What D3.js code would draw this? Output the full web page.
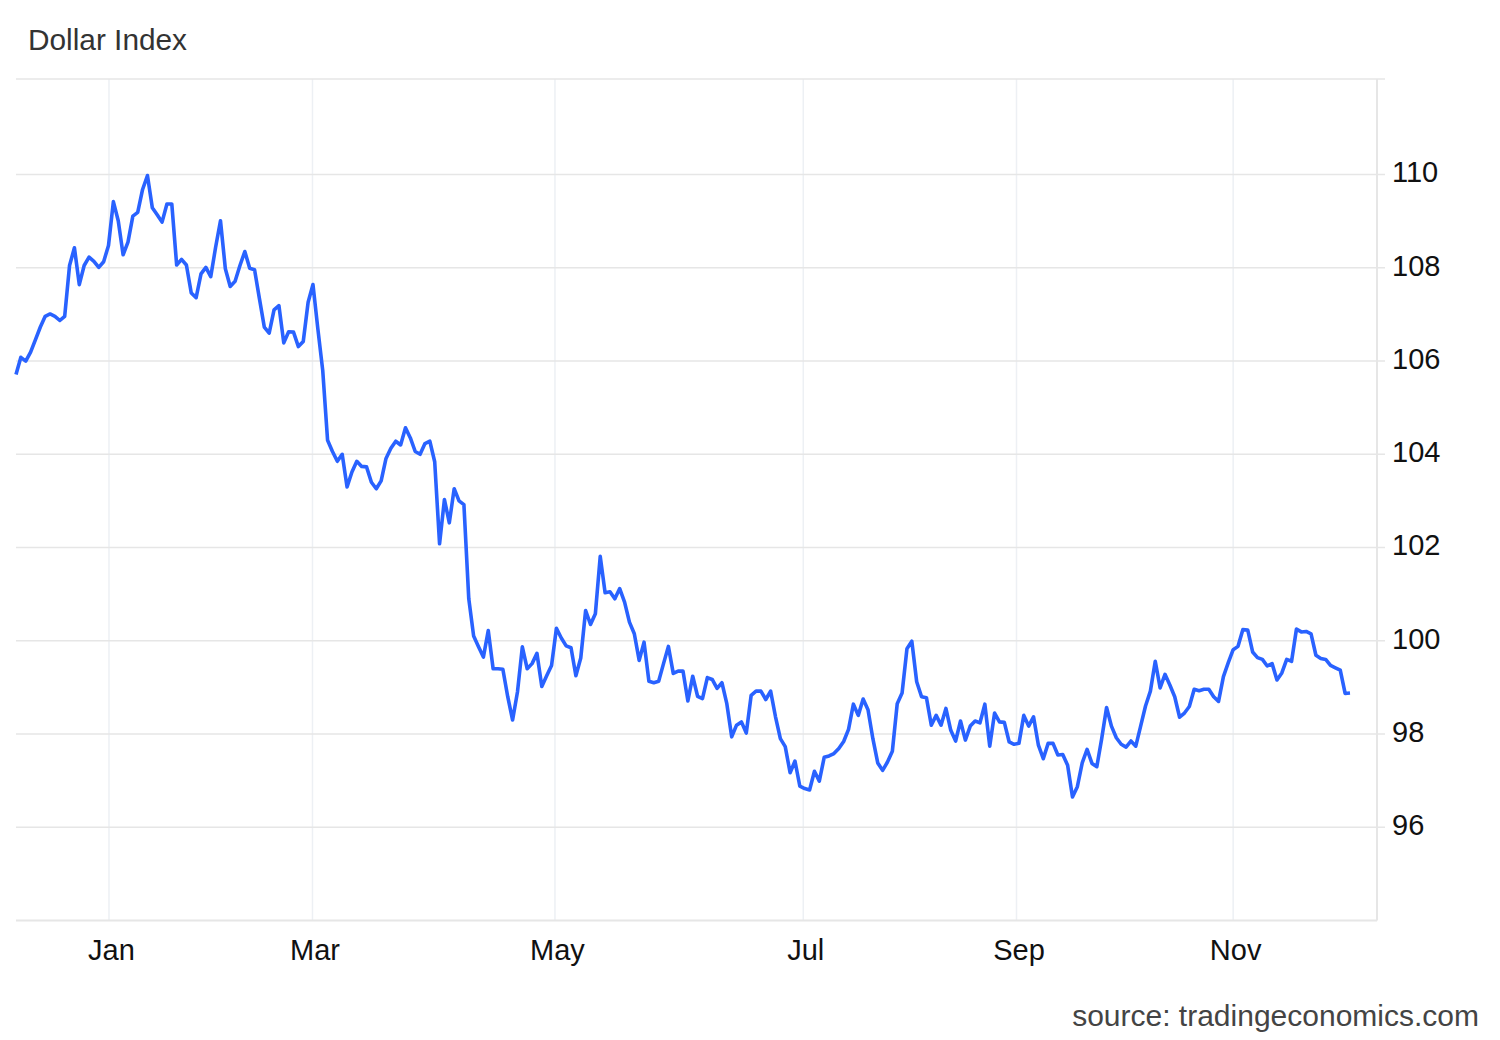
<!DOCTYPE html>
<html>
<head>
<meta charset="utf-8">
<script src="https://cdn.jsdelivr.net/npm/d3@7"></script>
<style>
  html, body { margin: 0; padding: 0; background: #fff; }
  #chart { width: 1500px; height: 1040px; }
  text { font-family: Arial, "Liberation Sans", sans-serif; }
</style>
</head>
<body>
<div id="chart"></div>
<script>
// daily closes, one per trading day
const dxyValues = [
  105.71, 106.08, 106.00, 106.19, 106.46, 106.73, 106.96, 107.01, 106.96, 106.87, 106.96,
  108.05, 108.43, 107.64, 108.05, 108.23, 108.14, 108.01, 108.13, 108.48, 109.42,
  109.01, 108.28, 108.55, 109.11, 109.19, 109.68, 109.98, 109.29, 109.14, 108.98,
  109.37, 109.37, 108.06, 108.18, 108.06, 107.46, 107.36, 107.87, 108.01, 107.81,
  108.44, 109.01, 107.98, 107.60, 107.71, 108.05, 108.35, 107.99, 107.96, 107.34,
  106.73, 106.60, 107.10, 107.19, 106.39, 106.63, 106.62, 106.31, 106.42, 107.26,
  107.64, 106.69, 105.80, 104.30, 104.06, 103.85, 104.00, 103.30, 103.62, 103.85,
  103.74, 103.73, 103.40, 103.26, 103.43, 103.91, 104.13, 104.28, 104.20, 104.57,
  104.35, 104.06, 104.00, 104.23, 104.28, 103.84, 102.08, 103.03, 102.53, 103.26,
  103.00, 102.92, 100.90, 100.10, 99.87, 99.65, 100.22, 99.40, 99.40, 99.39,
  98.80, 98.30, 98.90, 99.87, 99.40, 99.51, 99.73, 99.02, 99.25, 99.47,
  100.27, 100.06, 99.89, 99.85, 99.25, 99.63, 100.65, 100.35, 100.58, 101.81,
  101.03, 101.05, 100.90, 101.12, 100.83, 100.40, 100.15, 99.58, 99.97, 99.13,
  99.10, 99.13, 99.51, 99.88, 99.30, 99.35, 99.35, 98.71, 99.24, 98.81,
  98.76, 99.21, 99.17, 98.98, 99.10, 98.65, 97.94, 98.19, 98.26, 98.02,
  98.83, 98.92, 98.92, 98.74, 98.92, 98.37, 97.90, 97.73, 97.17, 97.42,
  96.88, 96.83, 96.80, 97.20, 96.99, 97.50, 97.53, 97.58, 97.69, 97.84,
  98.10, 98.64, 98.40, 98.75, 98.52, 97.90, 97.38, 97.22, 97.40, 97.63,
  98.65, 98.88, 99.83, 99.99, 99.12, 98.80, 98.78, 98.19, 98.40, 98.19,
  98.55, 98.08, 97.85, 98.28, 97.87, 98.17, 98.28, 98.24, 98.64, 97.74,
  98.45, 98.26, 98.25, 97.83, 97.78, 97.80, 98.40, 98.17, 98.37, 97.76,
  97.47, 97.80, 97.80, 97.55, 97.56, 97.33, 96.65, 96.87, 97.38, 97.67,
  97.37, 97.30, 97.90, 98.57, 98.17, 97.92, 97.78, 97.72, 97.85, 97.74,
  98.17, 98.60, 98.92, 99.56, 98.99, 99.28, 99.05, 98.80, 98.36, 98.45,
  98.59, 98.96, 98.93, 98.96, 98.96, 98.80, 98.70, 99.23, 99.53, 99.81,
  99.88, 100.24, 100.23, 99.76, 99.64, 99.60, 99.46, 99.51, 99.16, 99.31,
  99.60, 99.56, 100.25, 100.19, 100.20, 100.15, 99.69, 99.62, 99.60, 99.47,
  99.42, 99.37, 98.87, 98.88
];

// month gridlines, placed on the trading-day index
const monthLabels = ["Jan", "Mar", "May", "Jul", "Sep", "Nov"];
const monthTickIdx = [19.1, 60.9, 110.7, 161.7, 205.5, 250.0];

const yTicks = [96, 98, 100, 102, 104, 106, 108, 110];
const yDomain = [94, 112.05];

const chartTitle = "Dollar Index";
const sourceText = "source: tradingeconomics.com";

class LineChart {
    constructor(id, values) {
        this.div = id;
        this.values = values;
    }

    add_svg() {
        const div = d3.select(`#${this.div}`);
        div.selectAll("*").remove();
        this.width = 1500;
        this.height = 1040;
        this.margin = { left: 16, right: 123, top: 79, bottom: 119.5 };
        this.innerW = this.width - this.margin.left - this.margin.right;
        this.innerH = this.height - this.margin.top - this.margin.bottom;
        this.svg = div.append("svg")
            .attr("width", this.width)
            .attr("height", this.height);
        this.ChartArea = this.svg.append("g")
            .attr("transform", `translate(${this.margin.left},${this.margin.top})`);
    }

    add_scale() {
        // last point sits a bit inside the right axis
        const lastX = 1350 - this.margin.left;
        this.x = d3.scaleLinear()
            .domain([0, this.values.length - 1])
            .range([0, lastX]);
        this.y = d3.scaleLinear()
            .domain(yDomain)
            .range([this.innerH, 0]);
    }

    add_grid() {
        const g = this.ChartArea.append("g").attr("class", "grid");
        // vertical month lines
        g.selectAll(".vgrid").data(monthTickIdx).join("line")
            .attr("class", "vgrid")
            .attr("x1", d => this.x(d)).attr("x2", d => this.x(d))
            .attr("y1", 0).attr("y2", this.innerH)
            .attr("stroke", "#edf0f4")
            .attr("stroke-width", 1.5);
        // horizontal value lines, with tick stub past the axis
        g.selectAll(".hgrid").data(yTicks.concat([yDomain[1]])).join("line")
            .attr("class", "hgrid")
            .attr("x1", 0).attr("x2", this.innerW + 8)
            .attr("y1", d => this.y(d)).attr("y2", d => this.y(d))
            .attr("stroke", "#e6e6e6")
            .attr("stroke-width", 1.5);
        // bottom axis line
        g.append("line")
            .attr("x1", 0).attr("x2", this.innerW)
            .attr("y1", this.innerH).attr("y2", this.innerH)
            .attr("stroke", "#e6e6e6")
            .attr("stroke-width", 2);
        // right axis line
        g.append("line")
            .attr("x1", this.innerW).attr("x2", this.innerW)
            .attr("y1", 0).attr("y2", this.innerH)
            .attr("stroke", "#e6e6e6")
            .attr("stroke-width", 2);
    }

    add_axis() {
        const yAxis = d3.axisRight(this.y).tickValues(yTicks).tickSize(0).tickPadding(15);
        this.AxisY = this.ChartArea.append("g")
            .attr("transform", `translate(${this.innerW},-2)`)
            .call(yAxis);
        this.AxisY.select(".domain").remove();
        this.AxisY.selectAll("text")
            .attr("font-size", 29)
            .attr("font-family", "Arial, 'Liberation Sans', sans-serif")
            .attr("fill", "#111");

        const xAxis = d3.axisBottom(this.x)
            .tickValues(monthTickIdx)
            .tickFormat((d, i) => monthLabels[i])
            .tickSize(0).tickPadding(19);
        this.AxisX = this.ChartArea.append("g")
            .attr("transform", `translate(2,${this.innerH})`)
            .call(xAxis);
        this.AxisX.select(".domain").remove();
        this.AxisX.selectAll("text")
            .attr("font-size", 29)
            .attr("font-family", "Arial, 'Liberation Sans', sans-serif")
            .attr("fill", "#111");
    }

    draw_chart() {
        const line = d3.line()
            .x((d, i) => this.x(i))
            .y(d => this.y(d));
        this.ChartArea.append("path")
            .datum(this.values)
            .attr("d", line)
            .attr("fill", "none")
            .attr("stroke", "#2962ff")
            .attr("stroke-width", 3.6)
            .attr("stroke-linejoin", "round");
    }

    add_label() {
        this.svg.append("text")
            .attr("x", 28).attr("y", 50)
            .attr("font-size", 29.8)
            .attr("fill", "#333")
            .text(chartTitle);
        this.svg.append("text")
            .attr("x", 1479).attr("y", 1026)
            .attr("text-anchor", "end")
            .attr("font-size", 30)
            .attr("fill", "#444")
            .text(sourceText);
    }

    render() {
        this.add_svg();
        this.add_scale();
        this.add_grid();
        this.add_axis();
        this.draw_chart();
        this.add_label();
    }
}

new LineChart("chart", dxyValues).render();
</script>
</body>
</html>
